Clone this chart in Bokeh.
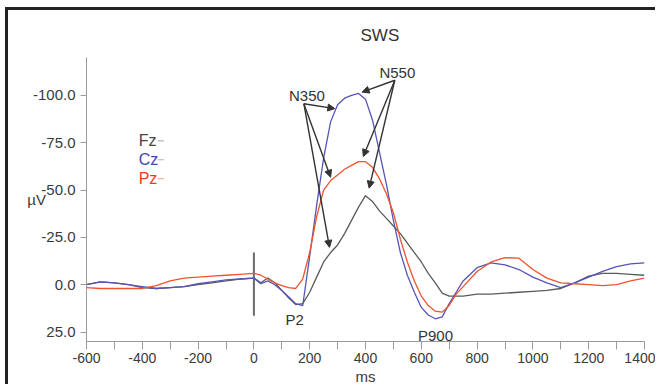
from bokeh.plotting import figure
from bokeh.models import Range1d, FixedTicker, NumeralTickFormatter, Arrow, NormalHead
from bokeh.embed import file_html
from bokeh.resources import INLINE
from bokeh.core.properties import value

# ---- data (ms, µV; negative plotted upward) ----
times = [-600, -550, -500, -450, -400, -350, -300, -250, -200, -150, -100, -50, 0,
         25, 50, 75, 100, 125, 150, 175, 200, 225, 250, 275, 300, 325, 350, 375, 400,
         425, 450, 475, 500, 525, 550, 575, 600, 625, 650, 675, 700, 725, 750, 800,
         850, 900, 950, 1000, 1050, 1100, 1150, 1200, 1250, 1300, 1350, 1400]

fz = [0, -1.5, -1, 0, 1.5, 2, 1.5, 1, 0, -1, -2, -3, -3.5,
      -1, -3.5, -1, 3, 7, 10.5, 10, 4, -4, -12, -17, -21, -27, -34, -41, -47,
      -44, -39, -35, -31, -27, -22, -17, -12, -6, -1, 4.5, 6, 6, 6, 5,
      5, 4.5, 4, 3.5, 3, 2, -1, -4.5, -6, -6, -5.5, -5]

cz = [0, -1.5, -1, 0, 1, 2, 1.5, 1, -0.5, -1.5, -2.5, -3, -3.5,
      -0.5, -2, 0, 3, 6.5, 10, 11, -15, -42, -67, -86, -95, -98.5, -100, -101, -98,
      -87, -70, -53, -34, -17, -5, 4, 12, 16, 18, 17, 10, 4, -2, -9,
      -11.5, -10.5, -8, -4, -1, 1.5, -1, -4, -7, -9.5, -11, -11.5]

pz = [1.5, 2, 2, 2, 2, 0.5, -2, -3.5, -4, -4.5, -5, -5.5, -6,
      -5, -3, -1, 0.5, 1.5, 2, -3, -17, -36, -50, -55, -58, -61, -63, -65, -65,
      -62, -56, -48, -38, -24, -12, -2, 6, 11, 14, 14.5, 11, 5, 1, -7,
      -12, -14.3, -14, -8, -3.5, -1, -0.5, 0, 0.5, 0, -2, -3.5]

channels = ["Fz", "Cz", "Pz"]
colors = ["#5a5a5a", "#5555b8", "#f0532e"]
label_colors = ["#444444", "#4444aa", "#ee3a22"]

x_ticks = [-600, -400, -200, 0, 200, 400, 600, 800, 1000, 1200, 1400]
x_minor = [-500, -300, -100, 100, 300, 500, 700, 900, 1100, 1300]
y_ticks = [-100, -75, -50, -25, 0, 25]

# component annotations: label, label position, arrow tips
peak_labels = ["N350", "N550", "P2", "P900"]
peak_label_x = [190, 514, 146, 651]
peak_label_y = [-100, -112.3, 18.3, 27]
n350_origin = (179, -95.6)
n350_tips_x = [290, 275, 271]
n350_tips_y = [-93, -56.8, -19.7]
n550_origin = (505, -108)
n550_tips_x = [388, 392, 413]
n550_tips_y = [-101.7, -67.7, -51]

FONT = "Liberation Sans"

p = figure(width=650, height=377, output_backend="svg", toolbar_location=None,
           x_range=Range1d(-600, 1400), y_range=Range1d(30, -120),
           min_border_left=78, min_border_right=14, min_border_top=47, min_border_bottom=46)
p.margin = (7, 0, 0, 5)
p.styles = {"border-top": "3px solid #222222", "border-left": "3px solid #222222"}
p.outline_line_color = None
p.xgrid.visible = False
p.ygrid.visible = False
p.background_fill_color = "white"
p.border_fill_color = "white"

p.title.text = "SWS"
p.title.align = "left"
p.title.offset = 266
p.title.padding = 8
p.title.text_font = FONT
p.title.text_font_size = "17px"
p.title.text_font_style = "normal"
p.title.text_color = "#333333"

for ax in (p.xaxis[0], p.yaxis[0]):
    ax.axis_line_color = "#9a9a9a"
    ax.major_tick_line_color = "#9a9a9a"
    ax.minor_tick_line_color = "#9a9a9a"
    ax.major_label_text_font = FONT
    ax.major_label_text_color = "#3a3a3a"
    ax.axis_label_text_font = FONT
    ax.axis_label_text_font_size = "15px"
    ax.axis_label_text_font_style = "normal"
    ax.axis_label_text_color = "#3a3a3a"

p.xaxis.ticker = FixedTicker(ticks=x_ticks, minor_ticks=x_minor)
p.xaxis.formatter = NumeralTickFormatter(format="0")
p.xaxis.major_label_text_font_size = "14px"
p.xaxis.major_tick_in = 0
p.xaxis.major_tick_out = 8
p.xaxis.minor_tick_in = 0
p.xaxis.minor_tick_out = 8
p.xaxis.major_label_standoff = 3
p.xaxis.axis_label = "ms"
p.xaxis.axis_label_standoff = 2

p.yaxis.ticker = FixedTicker(ticks=y_ticks, minor_ticks=[])
p.yaxis.formatter = NumeralTickFormatter(format="0.0")
p.yaxis.major_label_text_font_size = "15px"
p.yaxis.major_tick_in = 0
p.yaxis.major_tick_out = 6
p.yaxis.axis_label = "µV"
p.yaxis.axis_label_orientation = "horizontal"
p.yaxis.axis_label_standoff = -16

# stimulus onset marker
p.segment(x0=[0], y0=[-17], x1=[0], y1=[16.4], line_color="#6a6a6a", line_width=2)

# waveforms
for vals, c in zip([fz, cz, pz], colors):
    p.line(times, vals, line_color=c, line_width=1.3)

# legend: name followed by a short coloured stroke
leg_x = [-413, -413, -413]
leg_y = [-76, -66, -56]
p.text(x=leg_x, y=leg_y, text=channels, text_color=label_colors,
       text_font=value(FONT), text_font_size="16px", text_baseline="middle", text_align="left")
p.segment(x0=[-345] * 3, y0=leg_y, x1=[-322] * 3, y1=leg_y,
          line_color=colors, line_alpha=0.45, line_width=1.2)

# component labels
p.text(x=peak_label_x, y=peak_label_y, text=peak_labels, text_color="#333333",
       text_font=value(FONT), text_font_size="15px", text_baseline="middle", text_align="center")

for origin, tx, ty in [(n350_origin, n350_tips_x, n350_tips_y), (n550_origin, n550_tips_x, n550_tips_y)]:
    for xe, ye in zip(tx, ty):
        p.add_layout(Arrow(end=NormalHead(size=7, fill_color="#333333", line_color="#333333"),
                           x_start=origin[0], y_start=origin[1], x_end=xe, y_end=ye,
                           line_color="#333333", line_width=1.4))

open("out.html", "w").write(file_html(p, INLINE))
